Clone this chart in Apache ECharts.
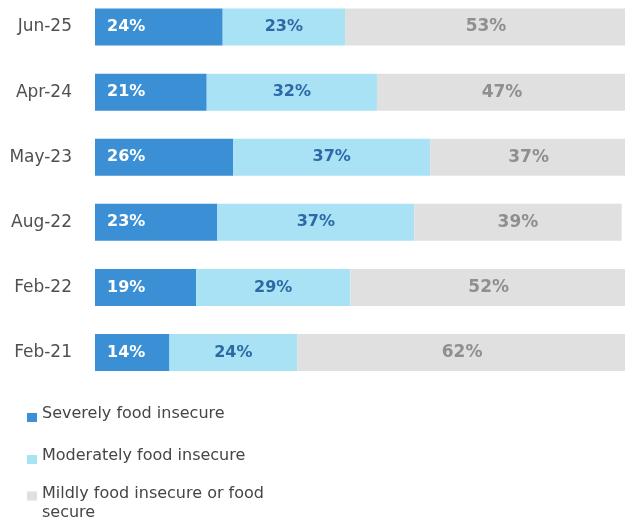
<!DOCTYPE html>
<html>
<head>
<meta charset="utf-8">
<script src="https://cdn.jsdelivr.net/npm/echarts@6/dist/echarts.min.js"></script>
<style>
  html, body { margin: 0; padding: 0; background: #ffffff; }
  #chart { width: 625px; height: 522px; }
</style>
</head>
<body>
<div id="chart"></div>
<script>
// Survey rounds, newest first
const categories = ['Jun-25', 'Apr-24', 'May-23', 'Aug-22', 'Feb-22', 'Feb-21'];

// Share of households (%) in each food security group
const severe = [24, 21, 26, 23, 19, 14];
const moderate = [23, 32, 37, 37, 29, 24];
const mild = [53, 47, 37, 39, 52, 62];

const seriesNames = [
  'Severely food insecure',
  'Moderately food insecure',
  'Mildly food insecure or food secure'
];

const colors = ['#3b8fd4', '#a9e2f5', '#e0e0e0'];
const labelColors = ['#ffffff', '#2c6aa6', '#8f8f8f'];

const chart = echarts.init(document.getElementById('chart'), null, { renderer: 'canvas' });

function pct(p) { return p.value + '%'; }

// One legend block per entry so each row can sit at its own height.
// The text is lifted slightly above the swatch, which sits on the baseline.
function legendFor(idx, top, text) {
  return {
    orient: 'vertical',
    left: 27,
    top: top,
    padding: 0,
    itemWidth: 10,
    itemHeight: 9,
    selectedMode: false,
    data: [{ name: seriesNames[idx], icon: 'rect' }],
    formatter: function () { return text; },
    textStyle: {
      fontFamily: 'DejaVu Sans',
      fontSize: 16,
      color: '#454545',
      rich: {
        t: { fontFamily: 'DejaVu Sans', fontSize: 16, color: '#454545', lineHeight: 19, verticalAlign: 'top' },
        b: { fontFamily: 'DejaVu Sans', fontSize: 16, color: '#454545', lineHeight: 19, verticalAlign: 'bottom' },
        p: { fontSize: 16, lineHeight: 24 },
        q: { fontSize: 16, lineHeight: 31 }
      }
    }
  };
}

const option = {
  animation: false,
  backgroundColor: '#ffffff',
  grid: { left: 95, width: 532, top: -5.5, height: 390.5, containLabel: false, outerBoundsMode: 'none' },
  xAxis: { type: 'value', min: 0, max: 100, show: false },
  yAxis: {
    type: 'category',
    data: categories,
    inverse: true,
    axisLine: { show: false },
    axisTick: { show: false },
    splitLine: { show: false },
    axisLabel: {
      margin: 23,
      fontFamily: 'DejaVu Sans',
      fontSize: 17,
      color: '#505050'
    }
  },
  legend: [
    legendFor(0, 405.5, '{t|Severely food insecure}{p| }'),
    legendFor(1, 447.5, '{t|Moderately food insecure}{p| }'),
    legendFor(2, 478.5, '{b|Mildly food insecure or food}{q| }\n{b|secure}')
  ],
  series: [
    {
      name: seriesNames[0],
      type: 'bar',
      stack: 'total',
      barWidth: 37,
      data: severe,
      itemStyle: { color: colors[0] },
      label: {
        show: true,
        position: 'insideLeft',
        distance: 12,
        formatter: pct,
        fontFamily: 'DejaVu Sans',
        fontWeight: 'bold',
        fontSize: 16,
        color: labelColors[0]
      }
    },
    {
      name: seriesNames[1],
      type: 'bar',
      stack: 'total',
      barWidth: 37,
      data: moderate,
      itemStyle: { color: colors[1] },
      label: {
        show: true,
        position: 'inside',
        formatter: pct,
        fontFamily: 'DejaVu Sans',
        fontWeight: 'bold',
        fontSize: 16,
        color: labelColors[1]
      }
    },
    {
      name: seriesNames[2],
      type: 'bar',
      stack: 'total',
      barWidth: 37,
      data: mild,
      itemStyle: { color: colors[2] },
      label: {
        show: true,
        position: 'inside',
        formatter: pct,
        fontFamily: 'DejaVu Sans',
        fontWeight: 'bold',
        fontSize: 17,
        color: labelColors[2]
      }
    }
  ]
};

chart.setOption(option);
</script>
</body>
</html>
